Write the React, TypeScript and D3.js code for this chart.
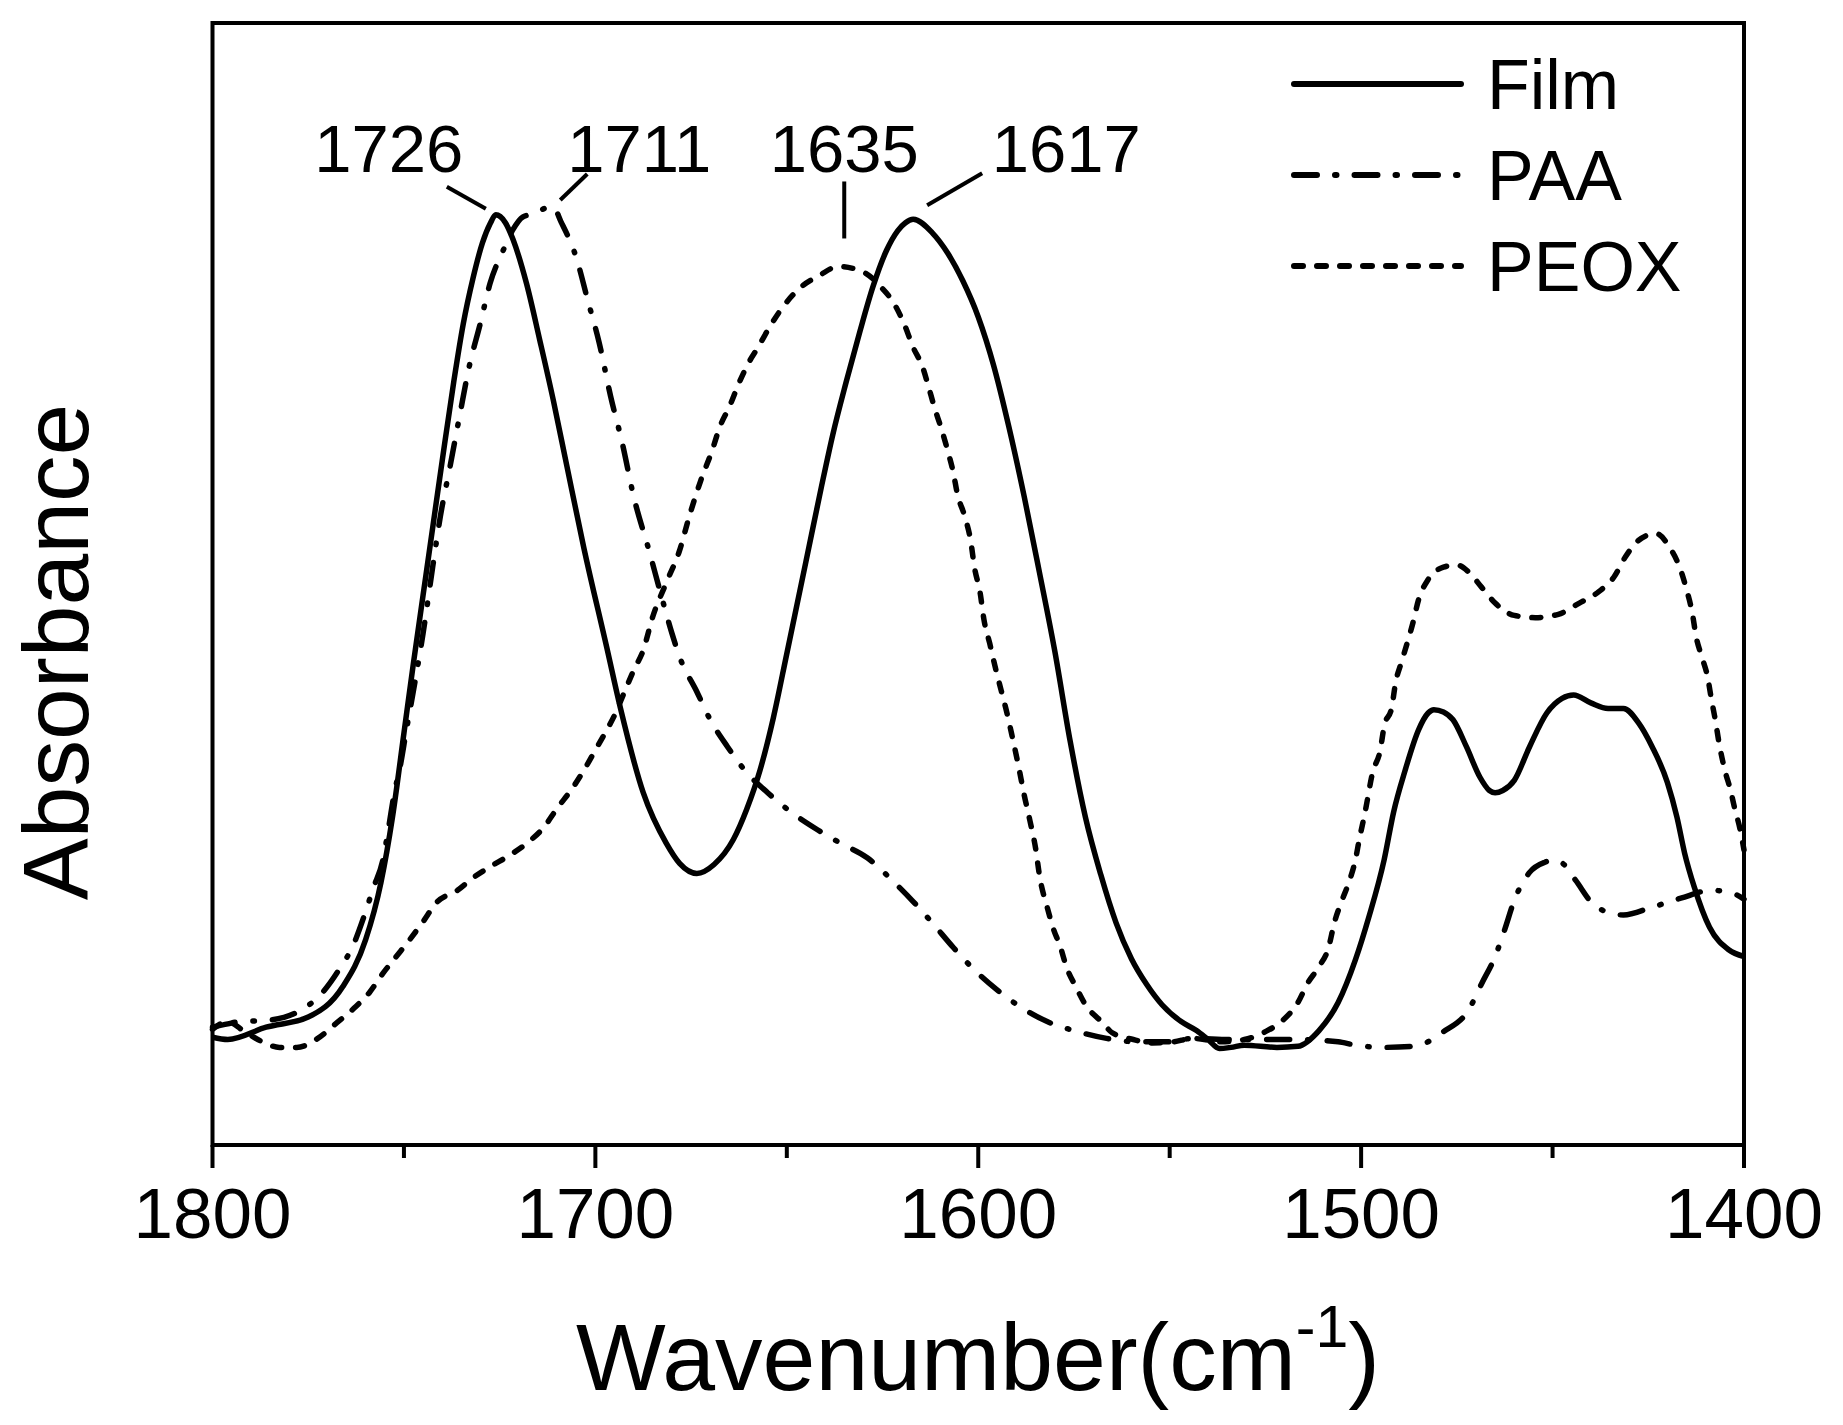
import * as d3 from 'd3'
import * as React from 'react'

// Wavenumber (cm-1) / absorbance pairs
const filmWn = [1800, 1796, 1786, 1775, 1766, 1760, 1756, 1753, 1750, 1747.5, 1745, 1742.5, 1740, 1737, 1734.5, 1732, 1729.5, 1727.5, 1726, 1723.5, 1721.5, 1718, 1714.5, 1711, 1707.5, 1703, 1697, 1693.5, 1687.5, 1681.5, 1678, 1673.5, 1669, 1664, 1660.5, 1657, 1653.5, 1650, 1645, 1641, 1638, 1634.5, 1631, 1627.5, 1624, 1621, 1619, 1617, 1612, 1608, 1604, 1600, 1596, 1592, 1588, 1584, 1580, 1576, 1572, 1568, 1564, 1560, 1556, 1552, 1547, 1543, 1540, 1537, 1534, 1530.5, 1522, 1516.5, 1511, 1506, 1501.5, 1498, 1494, 1491.5, 1488.5, 1485, 1482.5, 1481, 1478.5, 1476, 1472.5, 1469, 1466.5, 1465, 1463, 1460, 1456, 1451.5, 1447.5, 1444.5, 1440, 1435.5, 1431.5, 1427.5, 1424, 1420, 1417.5, 1415.5, 1413, 1409, 1404, 1400]
const filmAbs = [0.096, 0.094, 0.105, 0.114, 0.141, 0.183, 0.234, 0.292, 0.367, 0.430, 0.490, 0.550, 0.610, 0.680, 0.732, 0.772, 0.804, 0.821, 0.829, 0.822, 0.807, 0.768, 0.717, 0.664, 0.606, 0.532, 0.443, 0.390, 0.314, 0.269, 0.251, 0.242, 0.250, 0.272, 0.299, 0.334, 0.381, 0.438, 0.520, 0.586, 0.633, 0.680, 0.724, 0.765, 0.797, 0.815, 0.822, 0.825, 0.813, 0.795, 0.770, 0.738, 0.695, 0.640, 0.578, 0.510, 0.440, 0.360, 0.292, 0.241, 0.198, 0.166, 0.143, 0.125, 0.110, 0.102, 0.094, 0.086, 0.087, 0.089, 0.087, 0.088, 0.102, 0.127, 0.165, 0.203, 0.254, 0.297, 0.334, 0.370, 0.385, 0.388, 0.386, 0.379, 0.355, 0.328, 0.316, 0.314, 0.316, 0.325, 0.355, 0.385, 0.398, 0.401, 0.394, 0.389, 0.389, 0.376, 0.355, 0.323, 0.292, 0.260, 0.230, 0.194, 0.174, 0.168]

const paaWn = [1800, 1796, 1793, 1786, 1777, 1771.5, 1767, 1763, 1760.5, 1758, 1755.5, 1754, 1752.5, 1751, 1749.5, 1747, 1745, 1742.5, 1740.5, 1738, 1735.5, 1733, 1730, 1727.5, 1724, 1721.5, 1719, 1716, 1713, 1711, 1709, 1705, 1702, 1699, 1696, 1693, 1690, 1686, 1682.5, 1680, 1678, 1673.5, 1670, 1665.5, 1660.5, 1655, 1649, 1642, 1636, 1629, 1622.5, 1617, 1612, 1606.5, 1601, 1595, 1588.5, 1582, 1574, 1566.5, 1558.5, 1550.5, 1544, 1534, 1518.5, 1506, 1501.5, 1494, 1486, 1478.5, 1472, 1468.5, 1465, 1462.5, 1460, 1456, 1452, 1449.5, 1447, 1444, 1438.5, 1431.5, 1424, 1416.5, 1408.5, 1402, 1400]
const paaAbs = [0.105, 0.108, 0.110, 0.111, 0.120, 0.135, 0.156, 0.180, 0.203, 0.229, 0.254, 0.283, 0.314, 0.337, 0.367, 0.415, 0.456, 0.515, 0.560, 0.604, 0.649, 0.693, 0.733, 0.768, 0.798, 0.816, 0.827, 0.830, 0.835, 0.836, 0.823, 0.791, 0.753, 0.715, 0.667, 0.626, 0.578, 0.530, 0.486, 0.456, 0.435, 0.404, 0.379, 0.355, 0.332, 0.314, 0.297, 0.281, 0.269, 0.256, 0.236, 0.217, 0.198, 0.176, 0.156, 0.138, 0.122, 0.110, 0.101, 0.095, 0.092, 0.092, 0.095, 0.094, 0.094, 0.092, 0.089, 0.087, 0.088, 0.101, 0.120, 0.144, 0.168, 0.192, 0.218, 0.243, 0.252, 0.254, 0.250, 0.236, 0.212, 0.205, 0.212, 0.220, 0.227, 0.223, 0.219]

const peoxWn = [1800, 1796, 1792, 1787, 1782.5, 1778, 1772.5, 1767.5, 1763, 1759, 1755.5, 1752, 1748.5, 1745, 1741.5, 1736, 1732, 1727.5, 1722.5, 1717.5, 1713.5, 1710, 1706, 1703, 1700, 1697.5, 1695, 1692.5, 1690, 1687.5, 1685, 1681.5, 1678, 1675.5, 1672.5, 1669.5, 1667.5, 1665, 1662.5, 1660, 1657.5, 1654.5, 1651, 1646.5, 1641.5, 1636.5, 1630, 1625.5, 1622, 1619.5, 1617, 1614.5, 1613, 1611.5, 1609.5, 1608, 1606.5, 1605.5, 1603.5, 1602, 1601, 1599.5, 1598.5, 1597, 1595.5, 1594, 1592.5, 1591, 1589.5, 1588, 1586.5, 1585, 1584, 1582, 1580.5, 1578.5, 1577, 1574.5, 1572, 1567.5, 1565, 1559.5, 1554.5, 1549, 1544, 1536.5, 1530.5, 1525, 1520.5, 1516.5, 1514, 1511, 1508.5, 1507, 1505, 1503, 1501.5, 1500.5, 1499, 1497, 1495, 1494, 1492, 1491, 1489.5, 1488, 1486.5, 1485, 1482.5, 1478.5, 1475, 1472, 1468.5, 1465, 1460, 1454.5, 1448.5, 1443, 1438, 1434, 1431, 1427.5, 1423, 1419.5, 1416.5, 1415, 1413.5, 1412.5, 1411, 1409.5, 1408.5, 1407.5, 1406.5, 1405, 1403.5, 1402.5, 1401, 1400]
const peoxAbs = [0.103, 0.110, 0.102, 0.092, 0.087, 0.087, 0.095, 0.109, 0.122, 0.136, 0.153, 0.168, 0.183, 0.199, 0.216, 0.227, 0.238, 0.248, 0.258, 0.270, 0.283, 0.300, 0.318, 0.334, 0.352, 0.367, 0.383, 0.403, 0.423, 0.441, 0.471, 0.501, 0.530, 0.560, 0.592, 0.619, 0.640, 0.658, 0.679, 0.697, 0.711, 0.729, 0.747, 0.764, 0.775, 0.783, 0.778, 0.765, 0.750, 0.733, 0.711, 0.693, 0.676, 0.658, 0.637, 0.619, 0.599, 0.581, 0.560, 0.539, 0.515, 0.492, 0.468, 0.447, 0.425, 0.405, 0.385, 0.362, 0.338, 0.312, 0.289, 0.264, 0.240, 0.212, 0.194, 0.176, 0.159, 0.141, 0.125, 0.109, 0.100, 0.094, 0.091, 0.092, 0.095, 0.092, 0.094, 0.101, 0.111, 0.127, 0.144, 0.159, 0.176, 0.198, 0.218, 0.236, 0.254, 0.272, 0.296, 0.332, 0.352, 0.373, 0.390, 0.412, 0.430, 0.447, 0.465, 0.486, 0.504, 0.515, 0.517, 0.511, 0.497, 0.483, 0.472, 0.470, 0.473, 0.483, 0.493, 0.506, 0.524, 0.539, 0.545, 0.533, 0.512, 0.495, 0.474, 0.453, 0.435, 0.417, 0.397, 0.379, 0.358, 0.334, 0.316, 0.301, 0.281, 0.263]

const seriesNames = ['Film', 'PAA', 'PEOX']
const xTicks = [1800, 1700, 1600, 1500, 1400]
const xMinorTicks = [1750, 1650, 1550, 1450]

// peak labels: wavenumber, which series the leader points at
const peakWn = [1726, 1711, 1635, 1617]
const peakSeries = [0, 1, 2, 0]

// ---- layout / style (pixels) ----
const W = 1843
const H = 1425
const left = 212.5
const right = 1744
const top = 23
const bottom = 1145
const font = 'Arial, "Liberation Sans", Helvetica, sans-serif'
const dashes = ['none', '23,18,1.5,18', '9,14']

// leader offsets relative to each peak: [startDx, startDy, endDx, endDy, labelDx]
const leaderOffsets = [
  [-10, -3, -49, -25, -107],
  [7, -4, 34, -30, 86],
  [0, -25, 0, -82, 0],
  [14, -11, 69, -43, 153],
]

export default function App() {
  const x = d3.scaleLinear().domain([1800, 1400]).range([left, right])
  const y = d3.scaleLinear().domain([0, 1]).range([bottom, top])

  const allSeries = [
    d3.zip(filmWn, filmAbs),
    d3.zip(paaWn, paaAbs),
    d3.zip(peoxWn, peoxAbs),
  ] as [number, number][][]

  const line = d3.line<[number, number]>()
    .x(d => x(d[0]))
    .y(d => y(d[1]))
    .curve(d3.curveMonotoneX)

  // value of a series at a wavenumber (for label placement)
  const valueAt = (s: number, wn: number) => {
    const data = allSeries[s]
    let best = data[0]
    data.forEach(d => { if (Math.abs(d[0] - wn) < Math.abs(best[0] - wn)) best = d })
    return best[1]
  }

  return (
    <svg width={W} height={H} style={{ position: 'absolute', left: 0, top: 0, background: '#fff' }}
      fontFamily={font}>
      <rect x={0} y={0} width={W} height={H} fill="#fff" />

      {/* spectra */}
      <g fill="none" stroke="#000" strokeWidth={5.5} strokeLinejoin="round">
        {allSeries.map((s, i) => (
          <path key={seriesNames[i]} d={line(s) || ''} strokeDasharray={dashes[i]}
            strokeLinecap={i === 0 ? 'butt' : 'round'} />
        ))}
      </g>

      {/* frame */}
      <rect x={left} y={top} width={right - left} height={bottom - top}
        fill="none" stroke="#000" strokeWidth={4} />

      {/* x ticks */}
      <g stroke="#000" strokeWidth={4}>
        {xTicks.map(t => <line key={t} x1={x(t)} x2={x(t)} y1={bottom} y2={bottom + 23} />)}
        {xMinorTicks.map(t => <line key={t} x1={x(t)} x2={x(t)} y1={bottom} y2={bottom + 13} />)}
      </g>
      <g fontSize={71} textAnchor="middle">
        {xTicks.map(t => <text key={t} x={x(t)} y={1238}>{t}</text>)}
      </g>

      {/* axis titles */}
      <text x={978} y={1390} fontSize={95} textAnchor="middle">
        Wavenumber(cm<tspan fontSize={59} dy={-43}>-1</tspan><tspan dy={43}>)</tspan>
      </text>
      <text transform="translate(88,652) rotate(-90)" fontSize={93} textAnchor="middle">Absorbance</text>

      {/* peak annotations */}
      <g>
        {peakWn.map((wn, i) => {
          const px = x(wn)
          const py = y(valueAt(peakSeries[i], wn)) - 3
          const o = leaderOffsets[i]
          return (
            <g key={wn}>
              <line x1={px + o[0]} y1={py + o[1]} x2={px + o[2]} y2={py + o[3]}
                stroke="#000" strokeWidth={4} />
              <text x={px + o[4]} y={172} fontSize={67} textAnchor="middle">{wn}</text>
            </g>
          )
        })}
      </g>

      {/* legend */}
      <g>
        {seriesNames.map((n, i) => {
          const ly = 84 + i * 91
          return (
            <g key={n}>
              <line x1={1294} x2={1461} y1={ly} y2={ly} stroke="#000" strokeWidth={6}
                strokeDasharray={dashes[i]} strokeLinecap="round" />
              <text x={1487} y={ly + 25} fontSize={70}>{n}</text>
            </g>
          )
        })}
      </g>
    </svg>
  )
}
